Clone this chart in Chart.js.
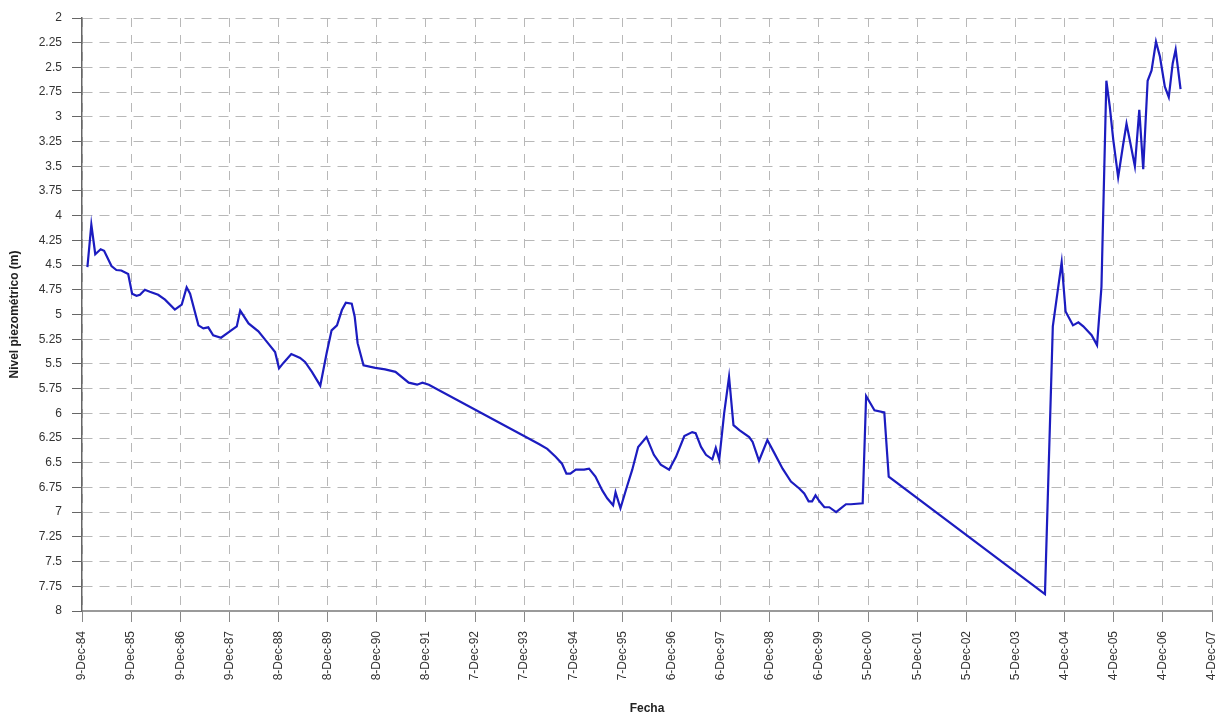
<!DOCTYPE html>
<html lang="es">
<head>
<meta charset="utf-8">
<title>Nivel piezométrico</title>
<script src="https://cdn.jsdelivr.net/npm/chart.js@4.4.1/dist/chart.umd.min.js"></script>
<style>
  html, body { margin: 0; padding: 0; background: #ffffff; }
  #grafico { display: block; }
</style>
</head>
<body>
<canvas id="grafico" width="1224" height="720"></canvas>
<script>
// Etiquetas del eje de fechas (una por año, a partir del 9-Dec-84)
const etiquetasFecha = [
  '9-Dec-84', '9-Dec-85', '9-Dec-86', '9-Dec-87', '8-Dec-88', '8-Dec-89',
  '8-Dec-90', '8-Dec-91', '7-Dec-92', '7-Dec-93', '7-Dec-94', '7-Dec-95',
  '6-Dec-96', '6-Dec-97', '6-Dec-98', '6-Dec-99', '5-Dec-00', '5-Dec-01',
  '5-Dec-02', '5-Dec-03', '4-Dec-04', '4-Dec-05', '4-Dec-06', '4-Dec-07'
];

// Marcas del eje de nivel (m)
const marcasNivel = [2, 2.25, 2.5, 2.75, 3, 3.25, 3.5, 3.75, 4, 4.25, 4.5, 4.75, 5,
  5.25, 5.5, 5.75, 6, 6.25, 6.5, 6.75, 7, 7.25, 7.5, 7.75, 8];

// Tiempo de cada medición, en años desde el 9-Dec-84
const aniosMedicion = [
  0.11, 0.19, 0.27, 0.38, 0.45, 0.60, 0.70, 0.80, 0.94, 1.02,
  1.11, 1.18, 1.28, 1.38, 1.55, 1.69, 1.89, 2.03, 2.13, 2.20,
  2.37, 2.47, 2.57, 2.67, 2.83, 2.98, 3.15, 3.22, 3.39, 3.59,
  3.76, 3.93, 4.01, 4.10, 4.26, 4.44, 4.54, 4.68, 4.85, 4.98,
  5.08, 5.19, 5.29, 5.37, 5.49, 5.55, 5.61, 5.73, 5.97, 6.17,
  6.38, 6.65, 6.82, 6.93, 7.06, 9.30, 9.47, 9.64, 9.77, 9.86,
  9.94, 10.05, 10.22, 10.32, 10.45, 10.59, 10.69, 10.81, 10.86, 10.96,
  11.08, 11.20, 11.32, 11.49, 11.64, 11.78, 11.95, 12.09, 12.26, 12.42,
  12.49, 12.60, 12.70, 12.83, 12.90, 12.97, 13.07, 13.17, 13.26, 13.38,
  13.58, 13.65, 13.78, 13.95, 14.09, 14.26, 14.43, 14.60, 14.70, 14.79,
  14.86, 14.93, 15.01, 15.11, 15.21, 15.35, 15.45, 15.55, 15.65, 15.89,
  15.96, 16.13, 16.33, 16.42, 19.60, 19.76, 19.94, 20.02, 20.17, 20.28,
  20.38, 20.55, 20.66, 20.75, 20.85, 20.92, 20.99, 21.09, 21.19, 21.26,
  21.32, 21.43, 21.52, 21.60, 21.69, 21.77, 21.86, 21.94, 22.04, 22.12,
  22.20, 22.26, 22.36
];

// Nivel piezométrico medido (m)
const nivelPiezometrico = [
  4.52, 4.09, 4.39, 4.34, 4.355, 4.51, 4.55, 4.555, 4.59, 4.79,
  4.81, 4.80, 4.75, 4.77, 4.80, 4.85, 4.95, 4.90, 4.725, 4.79,
  5.11, 5.14, 5.13, 5.21, 5.235, 5.18, 5.12, 4.96, 5.09, 5.17,
  5.275, 5.38, 5.545, 5.49, 5.40, 5.44, 5.48, 5.58, 5.72, 5.39,
  5.16, 5.11, 4.955, 4.88, 4.89, 5.02, 5.29, 5.515, 5.54, 5.555,
  5.58, 5.69, 5.71, 5.69, 5.71, 6.31, 6.36, 6.44, 6.51, 6.61,
  6.61, 6.57, 6.57, 6.56, 6.64, 6.78, 6.86, 6.93, 6.80, 6.96,
  6.76, 6.57, 6.34, 6.24, 6.42, 6.52, 6.57, 6.44, 6.23, 6.19,
  6.20, 6.34, 6.42, 6.465, 6.35, 6.47, 6.00, 5.63, 6.12, 6.17,
  6.24, 6.29, 6.48, 6.27, 6.40, 6.56, 6.69, 6.76, 6.81, 6.89,
  6.89, 6.83, 6.89, 6.95, 6.95, 7.00, 6.96, 6.92, 6.92, 6.91,
  5.825, 5.97, 5.99, 6.64, 7.83, 5.12, 4.47, 4.97, 5.11, 5.08,
  5.12, 5.21, 5.31, 4.72, 2.635, 2.90, 3.23, 3.61, 3.285, 3.07,
  3.22, 3.50, 2.93, 3.53, 2.635, 2.53, 2.24, 2.39, 2.695, 2.80,
  2.46, 2.32, 2.72
];

const puntos = aniosMedicion.map((a, i) => ({ x: a, y: nivelPiezometrico[i] }));

const fuente = "'Liberation Sans', Arial, sans-serif";
const colorRejilla = '#b8b8b8';

new Chart(document.getElementById('grafico'), {
  type: 'line',
  data: {
    datasets: [{
      label: 'Nivel piezométrico',
      data: puntos,
      borderColor: '#1c1cc0',
      borderWidth: 2.2,
      pointRadius: 0,
      tension: 0,
      fill: false
    }]
  },
  options: {
    responsive: false,
    animation: false,
    layout: { padding: { top: 18, right: 12, bottom: 0, left: 0 } },
    plugins: {
      legend: { display: false },
      tooltip: { enabled: false }
    },
    scales: {
      x: {
        type: 'linear',
        min: 0,
        max: etiquetasFecha.length - 1,
        afterBuildTicks: (scale) => {
          scale.ticks = etiquetasFecha.map((_, i) => ({ value: i }));
        },
        afterFit: (scale) => {
          scale.height = 109;
          // la última etiqueta vertical cabe en el margen derecho
          scale.paddingLeft = 0;
          scale.paddingRight = 0;
        },
        ticks: {
          autoSkip: false,
          maxRotation: 90,
          minRotation: 90,
          padding: 9,
          color: '#333333',
          font: { family: fuente, size: 12 },
          callback: (v) => etiquetasFecha[Math.round(v)]
        },
        grid: {
          color: colorRejilla,
          lineWidth: 1,
          tickLength: 11,
          tickColor: '#888888',
          tickBorderDash: []
        },
        // en Chart.js v4 el trazo discontinuo de la rejilla va en border.dash
        border: { color: '#9a9a9a', width: 2, dash: [9, 8] },
        title: {
          display: true,
          text: 'Fecha',
          color: '#222222',
          font: { family: fuente, size: 12, weight: 'bold' },
          padding: { top: 0, bottom: 4 }
        }
      },
      y: {
        type: 'linear',
        reverse: true,
        min: 2,
        max: 8,
        afterBuildTicks: (scale) => {
          scale.ticks = marcasNivel.map((v) => ({ value: v }));
        },
        afterFit: (scale) => { scale.width = 82; },
        ticks: {
          padding: 10,
          color: '#333333',
          font: { family: fuente, size: 12 },
          callback: (v) => String(v)
        },
        grid: {
          color: colorRejilla,
          lineWidth: 1,
          tickLength: 10,
          tickColor: '#666666',
          tickBorderDash: []
        },
        border: { color: '#666666', width: 1.5, dash: [10, 7] },
        title: {
          display: true,
          text: 'Nivel piezométrico (m)',
          color: '#222222',
          font: { family: fuente, size: 12, weight: 'bold' },
          padding: { top: 7, bottom: 0 }
        }
      }
    }
  }
});
</script>
</body>
</html>
